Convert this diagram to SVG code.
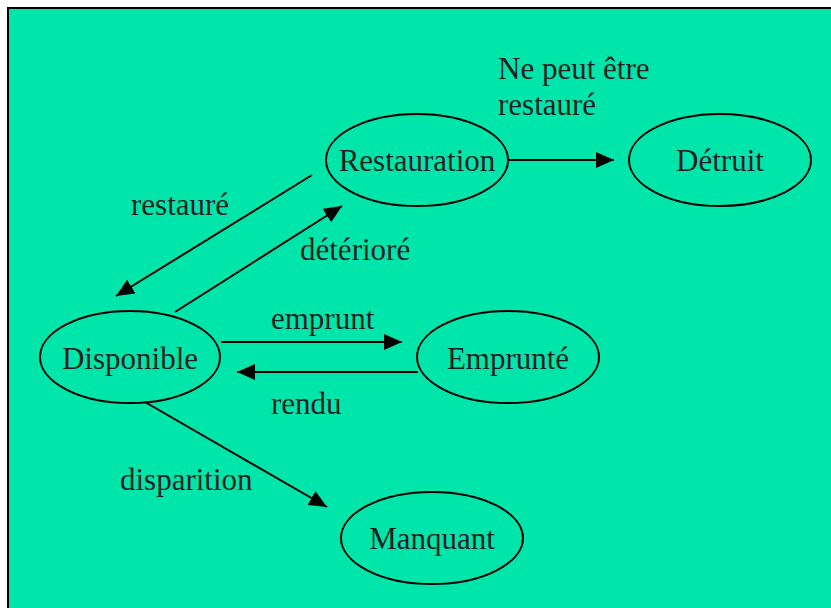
<svg xmlns="http://www.w3.org/2000/svg" width="831" height="608" viewBox="0 0 831 608">
<style>
.node ellipse{fill:none;stroke:#000;stroke-width:2}
text{font-family:"Liberation Serif","Times New Roman",serif;font-size:31px;fill:#1f1f1f}
.c{text-anchor:middle}
.edge{stroke:#000;stroke-width:2;fill:none;marker-end:url(#arr)}
</style>
<defs>
<marker id="arr" markerUnits="userSpaceOnUse" markerWidth="19" markerHeight="16" refX="18" refY="8" orient="auto">
<path d="M0,0 L18,8 L0,16 Z" fill="#000"/>
</marker>
</defs>
<rect x="0" y="0" width="831" height="608" fill="#fff"/>
<rect x="8" y="8" width="840" height="620" fill="#00E5AA" stroke="#000" stroke-width="2"/>
<g id="restauration" class="node"><ellipse cx="417" cy="160" rx="91" ry="46"/><text class="c" x="417" y="171">Restauration</text></g>
<g id="detruit" class="node"><ellipse cx="720" cy="160" rx="91" ry="46"/><text class="c" x="720" y="171">Détruit</text></g>
<g id="disponible" class="node"><ellipse cx="130" cy="357" rx="90" ry="46"/><text class="c" x="130" y="369">Disponible</text></g>
<g id="emprunte" class="node"><ellipse cx="508" cy="357" rx="91" ry="46"/><text class="c" x="508" y="369">Emprunté</text></g>
<g id="manquant" class="node"><ellipse cx="432" cy="538" rx="91" ry="46"/><text class="c" x="432" y="549">Manquant</text></g>
<g id="connectors">
<line class="edge" x1="509" y1="160" x2="614" y2="160"/>
<line class="edge" x1="312" y1="175" x2="116" y2="296"/>
<line class="edge" x1="175" y1="312" x2="342" y2="206"/>
<line class="edge" x1="221" y1="342" x2="402" y2="342"/>
<line class="edge" x1="418" y1="372" x2="237" y2="372"/>
<line class="edge" x1="145" y1="402" x2="327" y2="507"/>
<text x="498" y="79">Ne peut être</text>
<text x="498" y="115">restauré</text>
<text x="131" y="215">restauré</text>
<text x="300" y="260">détérioré</text>
<text x="271" y="329">emprunt</text>
<text x="271" y="414">rendu</text>
<text x="120" y="490">disparition</text>
</g>
</svg>
